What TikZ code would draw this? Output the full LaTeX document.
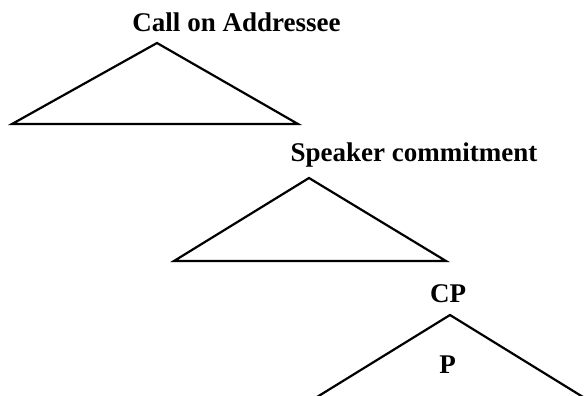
\documentclass[tikz,border=0pt]{standalone}
\usepackage{fontspec}
\setmainfont{Liberation Serif}
\usepackage{tikz}
\usetikzlibrary{positioning}

\begin{document}
\begin{tikzpicture}[
    x=1pt, y=-1pt,
    phrase/.style={anchor=base, inner sep=0pt, font=\fontsize{27}{30}\selectfont\bfseries},
    branch/.style={line width=2.2pt, line join=miter, color=black}
  ]
    \useasboundingbox (0,0) rectangle (586,396);

    \node[phrase] (call) at (236.5,32) {Call on Addressee};
    \node[phrase] (speaker) at (414,161) {Speaker commitment};
    \node[phrase] (cp) at (448,302) {CP};
    \node[phrase] (p) at (447.5,373) {P};

    \coordinate (callTop) at (157,43);
    \coordinate (callLeft) at (12,124);
    \coordinate (callRight) at (298,124);
    \coordinate (speakerTop) at (309,178);
    \coordinate (speakerLeft) at (174,261);
    \coordinate (speakerRight) at (446,261);
    \coordinate (cpTop) at (450,315);
    \coordinate (cpLeft) at (317,397);
    \coordinate (cpRight) at (583,397);

    \draw[branch] (callTop) -- (callLeft) -- (callRight) -- cycle;
    \draw[branch] (speakerTop) -- (speakerLeft) -- (speakerRight) -- cycle;
    \draw[branch] (cpLeft) -- (cpTop) -- (cpRight);
  \end{tikzpicture}
\end{document}
